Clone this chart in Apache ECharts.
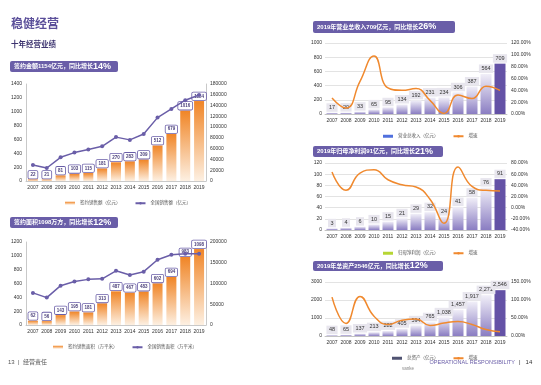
<!DOCTYPE html>
<html><head><meta charset="utf-8">
<script src="https://cdn.jsdelivr.net/npm/echarts@6/dist/echarts.min.js"></script>
<style>html,body{margin:0;padding:0;background:#fff}#c{width:541px;height:385px}</style>
</head><body><div id="c"></div>
<script>
const years = ['2007','2008','2009','2010','2011','2012','2013','2014','2015','2016','2017','2018','2019'];
const contractSales = [22,21,81,103,115,181,270,283,309,512,679,1016,1154];
const nationalSales = [29604,24071,43995,52721,58589,64456,81428,76292,87281,117627,133701,149973,159725];
const contractArea = [62,56,143,195,181,313,487,467,483,602,694,983,1098];
const nationalArea = [77355,65969,94755,104765,109946,111304,130551,120649,128495,157349,169408,171654,171558];
const revenue = [17,20,33,65,95,134,192,231,234,306,387,564,709];
const revenueGrowth = [27,10,55,98,44,40,43,23,1,32,26,47,40];
const profit = [3,4,6,10,15,21,29,32,24,41,58,76,91];
const profitGrowth = [64,31,62,68,50,41,37,15,-28,73,38,31,30];
const assets = [48,65,137,213,282,405,594,765,1038,1457,1917,2271,2546];
const assetsGrowth = [108,35,110,55,32,44,47,29,36,40,32,18,12];

const FF = '"Liberation Sans","Noto Sans CJK SC",sans-serif';
const PURPLE = '#6a5ea8';
const ORANGE = '#f0892e';

const orangeGrad = {type:'linear',x:0,y:0,x2:0,y2:1,colorStops:[{offset:0,color:'#f08526'},{offset:1,color:'#fdf0e2'}]};
const purpleGrad = {type:'linear',x:0,y:0,x2:0,y2:1,colorStops:[{offset:0,color:'#f1eff8'},{offset:1,color:'#8a7dc2'}]};

function leftLabel(){
  return {show:true,position:'top',distance:1,fontSize:4.5,fontFamily:FF,fontWeight:'bold',color:'#4a3f7a',
    backgroundColor:'#fff',borderColor:PURPLE,borderWidth:0.8,borderRadius:1,padding:[1.5,2]};
}
function rightLabel(fmt){
  return {show:true,position:'top',distance:1,fontSize:5.5,fontFamily:FF,color:'#333',
    backgroundColor:'#e8e6ee',padding:[1.5,2.5],formatter:fmt};
}
function xAx(g){
  return {type:'category',gridIndex:g,data:years,axisTick:{show:false},
    axisLine:{show:true,lineStyle:{color:'#bbb',width:0.8}},
    axisLabel:{fontSize:5,fontFamily:FF,color:'#333',margin:4,interval:0,hideOverlap:false}};
}
const plain = v => String(v);
function yAx(g,min,max,intv,opt){
  return Object.assign({type:'value',gridIndex:g,min:min,max:max,interval:intv,
    axisLabel:{fontSize:5,fontFamily:FF,color:'#333',margin:4,formatter:plain},
    axisTick:{show:false},splitLine:{show:false},
    axisLine:{show:true,lineStyle:{color:'#bbb',width:0.8}}},opt||{});
}
const pct = v => v.toFixed(2)+'%';
const rightYL = (g,min,max,intv)=>yAx(g,min,max,intv,{axisLine:{show:false},splitLine:{show:true,lineStyle:{color:'#d0d0d0',width:0.6}},axisLabel:{fontSize:5,fontFamily:FF,color:'#333',margin:3,formatter:plain}});
const rightYR = (g,min,max,intv)=>yAx(g,min,max,intv,{axisLine:{show:false},position:'right',axisLabel:{fontSize:5,fontFamily:FF,color:'#333',margin:4,formatter:pct}});

const legText = {fontSize:4.5,fontFamily:FF,color:'#555'};
function legend(left,top,names){
  return {left:left,top:top,itemWidth:10,itemHeight:3,itemGap:14,textStyle:legText,data:names};
}

function box(x,y,w,h,main,big){
  return [
    {type:'rect',shape:{x:x,y:y,width:w,height:h,r:2},style:{fill:PURPLE}},
    {type:'text',x:x+4,y:y+h/2,style:{text:'{a|'+main+'}{b|'+big+'}',verticalAlign:'middle',align:'left',
      rich:{a:{fontSize:6,fontFamily:FF,fontWeight:'bold',fill:'#fff'},b:{fontSize:9,fontFamily:FF,fontWeight:'bold',fill:'#fff'}}}}
  ];
}

const option = {
  animation:false,
  backgroundColor:'#fff',
  grid:[
    {left:26,top:84,width:180,height:97},
    {left:26,top:242,width:180,height:83},
    {left:325,top:43,width:182,height:71},
    {left:325,top:163,width:182,height:67},
    {left:325,top:282,width:182,height:54}
  ],
  xAxis:[xAx(0),xAx(1),xAx(2),xAx(3),xAx(4)],
  yAxis:[
    yAx(0,0,1400,200), yAx(0,0,180000,20000,{position:'right'}),
    yAx(1,0,1200,200), yAx(1,0,200000,50000,{position:'right'}),
    rightYL(2,0,1000,200), rightYR(2,0,120,20),
    rightYL(3,0,120,20), rightYR(3,-40,80,20),
    rightYL(4,0,3000,1000), rightYR(4,0,150,50)
  ],
  legend:[
    legend(60,196,[{name:'签约销售额（亿元）',icon:'rect'},'全国销售额（亿元）']),
    legend(48,340,[{name:'签约销售面积（万平米）',icon:'rect'},'全国销售面积（万平米）']),
    legend(378,129,[{name:'营业总收入（亿元）',icon:'rect'},'增速']),
    legend(378,246,[{name:'归母净利润（亿元）',icon:'rect'},'增速']),
    legend(387,351,[{name:'总资产（亿元）',icon:'rect'},'增速'])
  ],
  series:[
    {name:'签约销售额（亿元）',type:'bar',xAxisIndex:0,yAxisIndex:0,data:contractSales,barWidth:10,
      itemStyle:{color:orangeGrad},label:leftLabel()},
    {name:'全国销售额（亿元）',type:'line',xAxisIndex:0,yAxisIndex:1,data:nationalSales,symbol:'circle',symbolSize:4,
      itemStyle:{color:PURPLE},lineStyle:{color:PURPLE,width:1.5}},
    {name:'签约销售面积（万平米）',type:'bar',xAxisIndex:1,yAxisIndex:2,data:contractArea,barWidth:10,
      itemStyle:{color:orangeGrad},label:leftLabel()},
    {name:'全国销售面积（万平米）',type:'line',xAxisIndex:1,yAxisIndex:3,data:nationalArea,symbol:'circle',symbolSize:4,
      itemStyle:{color:PURPLE},lineStyle:{color:PURPLE,width:1.5}},
    {name:'营业总收入（亿元）',type:'bar',xAxisIndex:2,yAxisIndex:4,data:revenue,barWidth:11,
      itemStyle:{color:(p)=>p.dataIndex===12?'#6452a6':purpleGrad},label:rightLabel()},
    {name:'增速',type:'line',xAxisIndex:2,yAxisIndex:5,data:revenueGrowth,smooth:0.5,symbol:'none',
      itemStyle:{color:ORANGE},lineStyle:{color:ORANGE,width:1.5}},
    {name:'归母净利润（亿元）',type:'bar',xAxisIndex:3,yAxisIndex:6,data:profit,barWidth:11,
      itemStyle:{color:(p)=>p.dataIndex===12?'#6452a6':purpleGrad},label:rightLabel()},
    {name:'增速',type:'line',xAxisIndex:3,yAxisIndex:7,data:profitGrowth,smooth:0.5,symbol:'none',
      itemStyle:{color:ORANGE},lineStyle:{color:ORANGE,width:1.5}},
    {name:'总资产（亿元）',type:'bar',xAxisIndex:4,yAxisIndex:8,data:assets,barWidth:11,
      itemStyle:{color:(p)=>p.dataIndex===12?'#6452a6':purpleGrad},
      label:rightLabel(p=>p.value.toLocaleString('en-US'))},
    {name:'增速',type:'line',xAxisIndex:4,yAxisIndex:9,data:assetsGrowth,smooth:0.5,symbol:'none',
      itemStyle:{color:ORANGE},lineStyle:{color:ORANGE,width:1.5}}
  ],
  graphic:[
    {type:'text',x:11,y:25,style:{text:'稳健经营',fontSize:12,fontWeight:'bold',fontFamily:FF,fill:'#5b4f9a',verticalAlign:'middle'}},
    {type:'text',x:11,y:45,style:{text:'十年经营业绩',fontSize:7.5,fontWeight:'bold',fontFamily:FF,fill:'#3d3470',verticalAlign:'middle'}},
    ...box(10,61,108,11,'签约金额1154亿元，同比增长','14%'),
    ...box(10,217,108,11,'签约面积1098万方，同比增长','12%'),
    ...box(313,21,142,12,'2019年营业总收入709亿元，同比增长','26%'),
    ...box(313,146,130,11,'2019年归母净利润91亿元，同比增长','21%'),
    ...box(313,261,130,10,'2019年总资产2546亿元，同比增长','12%'),
    {type:'text',x:8,y:362,style:{text:'13  |  经营责任',fontSize:6,fontFamily:FF,fill:'#555',verticalAlign:'middle'}},
    {type:'text',x:515,y:362,style:{text:'OPERATIONAL RESPONSIBILITY',fontSize:5.5,fontFamily:FF,fill:PURPLE,align:'right',verticalAlign:'middle'}},
    {type:'text',x:519,y:362,style:{text:'|   14',fontSize:6,fontFamily:FF,fill:'#333',verticalAlign:'middle'}},
    {type:'text',x:402,y:369,style:{text:'vanke',fontSize:4.5,fontFamily:FF,fill:'#888',verticalAlign:'middle'}}
  ]
};
const chart = echarts.init(document.getElementById('c'),null,{renderer:'canvas'});
chart.setOption(option);
</script></body></html>
